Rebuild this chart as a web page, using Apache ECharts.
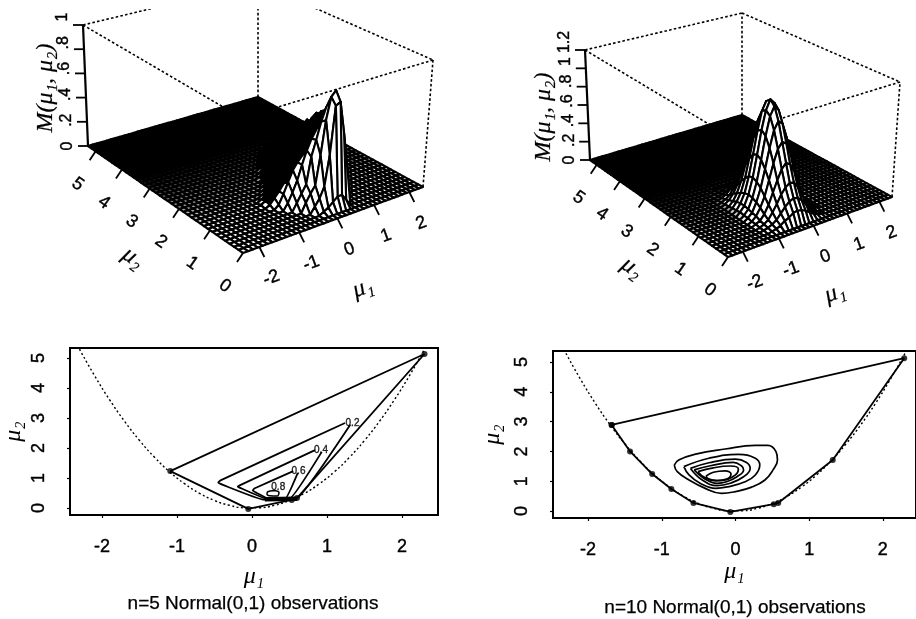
<!DOCTYPE html>
<html>
<head>
<meta charset="utf-8">
<style>html,body{margin:0;padding:0;background:#fff}#c{width:916px;height:619px}</style>
<script src="https://cdn.jsdelivr.net/npm/echarts@6/dist/echarts.min.js"></script>
</head>
<body>
<div id="c"></div>
<script>
// ---------- mesh of the two likelihood surfaces ----------
const meshMu1 = [-2.4,-2.28,-2.16,-2.04,-1.92,-1.8,-1.68,-1.56,-1.44,-1.32,-1.2,-1.08,-0.96,-0.84,-0.72,-0.6,-0.48,-0.36,-0.24,-0.12,0,0.12,0.24,0.36,0.48,0.6,0.72,0.84,0.96,1.08,1.2,1.32,1.44,1.56,1.68,1.8,1.92,2.04,2.16,2.28,2.4];
const meshMu2 = [0,0.1325,0.265,0.3975,0.53,0.6625,0.795,0.9275,1.06,1.1925,1.325,1.4575,1.59,1.7225,1.855,1.9875,2.12,2.2525,2.385,2.5175,2.65,2.7825,2.915,3.0475,3.18,3.3125,3.445,3.5775,3.71,3.8425,3.975,4.1075,4.24,4.3725,4.505,4.6375,4.77,4.9025,5.035,5.1675,5.3];

// n=5 surface: nonzero window starts at meshMu1[11], meshMu2[2]; the rest of the mesh is 0
const surfaceN5 = [
[0,0,0,0,0,0,0,0,.02,.04,.07,.10,.10,.05,0,0,0,0,0,0,0,0],
[0,0,0,0,0,0,0,.05,.10,.18,.41,.78,.80,.55,.28,0,0,0,0,0,0,0],
[0,0,0,0,0,0,.07,.13,.18,.40,.66,.83,.87,.60,.35,.05,0,0,0,0,0,0],
[0,0,0,0,0,.06,.12,.18,.38,.50,.63,.73,.74,.62,.40,.17,0,0,0,0,0,0],
[0,0,0,0,.05,.12,.20,.31,.41,.49,.55,.62,.67,.63,.44,.25,0,0,0,0,0,0],
[0,0,0,.03,.10,.18,.26,.31,.35,.41,.48,.55,.62,.65,.50,.30,.08,0,0,0,0,0],
[0,0,.02,.06,.10,.15,.19,.23,.28,.34,.42,.49,.56,.62,.52,.36,.15,0,0,0,0,0],
[0,.01,.03,.06,.09,.12,.15,.18,.24,.29,.36,.43,.49,.56,.57,.39,.21,0,0,0,0,0],
[0,0,.02,.04,.07,.09,.12,.15,.18,.24,.30,.35,.42,.49,.56,.42,.26,.05,0,0,0,0],
[0,0,0,.02,.04,.07,.09,.12,.15,.18,.24,.30,.36,.42,.50,.45,.30,.12,0,0,0,0],
[0,0,0,0,.02,.04,.07,.10,.12,.15,.18,.24,.30,.35,.42,.46,.34,.18,.02,0,0,0],
[0,0,0,0,0,.02,.04,.07,.10,.13,.16,.19,.25,.30,.36,.42,.39,.21,.05,0,0,0],
[0,0,0,0,0,0,.02,.05,.07,.10,.13,.16,.19,.24,.29,.36,.41,.26,.09,0,0,0],
[0,0,0,0,0,0,0,.02,.05,.08,.11,.14,.17,.20,.24,.29,.35,.33,.14,.02,0,0],
[0,0,0,0,0,0,0,.01,.03,.06,.09,.12,.15,.17,.20,.25,.30,.34,.19,.07,0,0],
[0,0,0,0,0,0,0,0,.01,.04,.07,.09,.12,.14,.17,.19,.24,.29,.24,.11,0,0],
[0,0,0,0,0,0,0,0,0,.02,.05,.07,.10,.12,.14,.16,.19,.24,.27,.15,.03,0],
[0,0,0,0,0,0,0,0,0,0,.03,.05,.08,.10,.12,.14,.16,.20,.23,.19,.07,0],
[0,0,0,0,0,0,0,0,0,0,0,.03,.05,.08,.10,.12,.14,.17,.20,.22,.10,0],
[0,0,0,0,0,0,0,0,0,0,0,0,.03,.05,.08,.10,.12,.14,.17,.20,.13,.02],
[0,0,0,0,0,0,0,0,0,0,0,0,0,.03,.05,.07,.10,.12,.14,.17,.15,.04]
];
// n=10 surface: nonzero window starts at meshMu1[11], meshMu2[2]
const surfaceN10 = [
[0,.01,.02,.04,.07,.09,.12,.13,.12,.10,.07,.04,.02,.01,0],
[.01,.02,.04,.07,.12,.17,.21,.23,.22,.18,.13,.07,.03,.01,0],
[.01,.03,.06,.12,.19,.27,.33,.36,.35,.29,.21,.11,.06,.02,.01],
[.02,.04,.09,.17,.28,.39,.49,.54,.51,.43,.32,.16,.08,.04,.01],
[.02,.06,.13,.23,.38,.54,.67,.73,.70,.59,.43,.23,.11,.05,.01],
[.03,.07,.16,.29,.47,.67,.84,.92,.88,.73,.54,.29,.14,.06,.02],
[.03,.08,.18,.33,.54,.77,.96,1.05,1.00,.84,.62,.33,.15,.07,.02],
[.04,.09,.19,.35,.57,.81,1.00,1.10,1.05,.88,.65,.34,.16,.07,.02],
[.03,.09,.18,.34,.55,.78,.97,1.06,1.01,.85,.62,.33,.16,.07,.02],
[.03,.08,.16,.29,.48,.68,.85,.93,.89,.74,.55,.29,.14,.06,.02],
[.02,.06,.13,.24,.39,.55,.69,.75,.72,.60,.44,.24,.11,.05,.01],
[.02,.05,.10,.18,.29,.41,.51,.56,.54,.45,.33,.17,.08,.04,.01],
[.01,.03,.06,.12,.20,.28,.35,.38,.36,.30,.22,.11,.06,.02,.01],
[.01,.02,.04,.08,.12,.17,.22,.24,.23,.19,.14,.07,.04,.02,0],
[0,.01,.02,.04,.07,.10,.13,.14,.13,.11,.08,.04,.02,.01,0],
[0,.01,.01,.02,.04,.05,.07,.07,.07,.06,.04,.02,.01,.01,0],
[0,0,.01,.01,.02,.03,.03,.03,.03,.03,.02,.01,.01,0,0]
];

// ---------- tick labels ----------
const mu1Ticks = [-2,-1,0,1,2];
const mu2Ticks = [0,1,2,3,4,5];
const zTicksN5 = [0,.2,.4,.6,.8,1];
const zLabelsN5 = ['0','.2','.4','.6','.8','1'];
const zTicksN10 = [0,.2,.4,.6,.8,1,1.2];
const zLabelsN10 = ['0','.2','.4','.6','.8','1','1.2'];

// ---------- bottom panels ----------
const parabolaMu1 = [-2.3,-2.1,-1.9,-1.7,-1.5,-1.3,-1.1,-.9,-.7,-.5,-.3,-.1,.1,.3,.5,.7,.9,1.1,1.3,1.5,1.7,1.9,2.1,2.3];
const parabolaMu2 = [5.29,4.41,3.61,2.89,2.25,1.69,1.21,.81,.49,.25,.09,.01,.01,.09,.25,.49,.81,1.21,1.69,2.25,2.89,3.61,4.41,5.29];

const hullN5Mu1 = [-1.09,-.05,.53,.6,2.3,-1.09];
const hullN5Mu2 = [1.23,-.03,.27,.33,5.13,1.23];
const obsN5Mu1 = [-1.09,-.05,.53,.6,2.3];
const obsN5Mu2 = [1.23,-.03,.27,.33,5.13];

const c02Mu1 = [1.24,-.42,-.45,-.38,.15,.58,1.31];
const c02Mu2 = [2.83,.92,.85,.76,.28,.29,2.77];
const c04Mu1 = [.84,-.15,-.19,-.13,.2,.5,.93];
const c04Mu2 = [1.93,.77,.71,.64,.3,.31,1.87];
const c06Mu1 = [.55,.03,.01,.05,.22,.44,.61];
const c06Mu2 = [1.23,.65,.58,.52,.31,.3,1.17];
const c08Mu1 = [.3,.21,.2,.24,.34,.36,.3];
const c08Mu2 = [.58,.54,.46,.41,.4,.52,.58];
const clusterMu1 = [.17,.6];
const clusterMu2 = [.29,.31];
const contourLabelMu1 = [1.34,.92,.62,.35];
const contourLabelMu2 = [2.83,1.93,1.23,.68];
const contourLabelText = ['0.2','0.4','0.6','0.8'];

const hullN10Mu1 = [-1.68,-1.43,-1.13,-.87,-.57,-.07,.52,.58,1.32,2.29,-1.68];
const hullN10Mu2 = [2.89,2.0,1.24,.74,.27,-.03,.23,.27,1.71,5.13,2.89];

const ring1Mu1 = [-.83,-.77,-.54,-.14,.27,.44,.55,.57,.51,.40,.22,0,-.19,-.41,-.63,-.79,-.83];
const ring1Mu2 = [1.54,1.71,1.91,2.08,2.2,2.2,1.99,1.71,1.38,1.04,.8,.65,.59,.76,1.04,1.32,1.54];
const ring2Mu1 = [-.70,-.36,.04,.27,.33,.27,.13,-.09,-.27,-.48,-.63,-.70];
const ring2Mu2 = [1.49,1.77,1.90,1.77,1.54,1.21,.98,.82,.76,.93,1.21,1.49];
const ring3Mu1 = [-.61,-.36,0,.15,.2,.11,-.07,-.25,-.45,-.61];
const ring3Mu2 = [1.43,1.62,1.74,1.63,1.43,1.15,.93,.85,1.04,1.43];
const ring4Mu1 = [-.56,-.34,-.03,.08,.11,.02,-.12,-.25,-.43,-.56];
const ring4Mu2 = [1.38,1.52,1.63,1.52,1.38,1.15,.98,.93,1.10,1.38];
const ring5Mu1 = [-.51,-.30,-.07,.04,0,-.14,-.27,-.42,-.51];
const ring5Mu2 = [1.32,1.45,1.51,1.40,1.21,1.04,1.02,1.13,1.32];
const ring6Mu1 = [-.40,-.30,-.14,-.06,-.12,-.25,-.36,-.40];
const ring6Mu2 = [1.17,1.30,1.35,1.24,1.07,1.02,1.07,1.17];

// silhouette of the n=5 ridge on the floor: cells behind it read as solid black
const foldN5Mu1 = [-1.2,-.87,.36,.84,1.5];
const foldN5Mu2 = [1.1,1.04,.66,1.0,1.0];

// ---------- helpers ----------
const zip = (a, b) => a.map((v, i) => [v, b[i]]);
const MU1 = '\u03bc\u2081', MU2 = '\u03bc\u2082';
const DEG = Math.PI / 180;

function homography(p0, p1, p2, p3) {
  const dx1 = p1[0]-p2[0], dx2 = p3[0]-p2[0], sx = p0[0]-p1[0]+p2[0]-p3[0];
  const dy1 = p1[1]-p2[1], dy2 = p3[1]-p2[1], sy = p0[1]-p1[1]+p2[1]-p3[1];
  const det = dx1*dy2-dx2*dy1;
  const g = (sx*dy2-dx2*sy)/det, h = (dx1*sy-sx*dy1)/det;
  const a = p1[0]-p0[0]+g*p1[0], b = p3[0]-p0[0]+h*p3[0], c = p0[0];
  const d = p1[1]-p0[1]+g*p1[1], e = p3[1]-p0[1]+h*p3[1], f = p0[1];
  return (u, v) => { const w = g*u+h*v+1; return [(a*u+b*v+c)/w, (d*u+e*v+f)/w]; };
}
function foldAt(xs, ys, x) {
  for (let k = 0; k < xs.length-1; k++)
    if (x <= xs[k+1]) return ys[k]+(ys[k+1]-ys[k])*(x-xs[k])/(xs[k+1]-xs[k]);
  return ys[ys.length-1];
}
function grey(t) { const c = Math.round(255*(1-Math.max(0, Math.min(1, t)))); return 'rgb('+c+','+c+','+c+')'; }

function makePanel(cfg) {
  const floor = homography(cfg.A, cfg.B, cfg.C, cfg.D);
  const ceil = homography(cfg.At, cfg.Bt, cfg.Ct, cfg.Dt);
  const r1 = meshMu1[meshMu1.length-1]-meshMu1[0], r2 = meshMu2[meshMu2.length-1];
  const project = (m1, m2, z) => {
    const u = (m1-meshMu1[0])/r1, v = m2/r2;
    const a = floor(u, v), b = ceil(u, v), t = z/cfg.zMax;
    return [a[0]+(b[0]-a[0])*t, a[1]+(b[1]-a[1])*t];
  };
  const zAt = (i, j) => {
    const row = cfg.table[j-2];
    if (!row) return 0;
    const v = row[i-11];
    return v === undefined ? 0 : v;
  };
  const cells = [];
  for (let j = meshMu2.length-2; j >= 0; j--)
    for (let i = meshMu1.length-2; i >= 0; i--) cells.push([i, j]);

  const surface = {
    type: 'custom', xAxisIndex: cfg.g, yAxisIndex: cfg.g, clip: true, z: 3, silent: true,
    progressive: 0, animation: false, data: cells,
    renderItem(p, api) {
      const i = api.value(0), j = api.value(1);
      const corners = [[i,j],[i+1,j],[i+1,j+1],[i,j+1]];
      const zs = corners.map(q => zAt(q[0], q[1]));
      const pts = corners.map((q, k) => api.coord(project(meshMu1[q[0]], meshMu2[q[1]], zs[k])));
      const raised = Math.max(...zs) > .04;
      let fill = grey((j-cfg.fadeFrom)/(cfg.fadeTo-cfg.fadeFrom));
      let lw = cfg.floorLw;
      if (raised) {
        const behind = cfg.foldX && meshMu2[j] > foldAt(cfg.foldX, cfg.foldY, meshMu1[i]);
        fill = behind ? '#000' : '#fff';
        lw = cfg.bumpLw;
      }
      return { type: 'polygon', shape: { points: pts },
        style: { fill, stroke: '#000', lineWidth: lw, lineJoin: 'round' } };
    }
  };

  const mn1 = meshMu1[0], mx1 = meshMu1[meshMu1.length-1], mx2 = r2;
  const boxSegs = [
    [[mn1,mx2,cfg.zMax],[mx1,mx2,cfg.zMax]],
    [[mx1,mx2,cfg.zMax],[mx1,0,cfg.zMax]],
    [[mn1,mx2,cfg.zMax],[mn1,0,cfg.zMax]],
    [[mx1,0,cfg.zMax],[mn1,0,cfg.zMax]],
    [[mx1,mx2,0],[mx1,mx2,cfg.zMax]],
    [[mx1,0,0],[mx1,0,cfg.zMax]]
  ];
  const box = {
    type: 'custom', xAxisIndex: cfg.g, yAxisIndex: cfg.g, clip: true, z: 2, silent: true,
    animation: false, data: boxSegs.map((s, i) => [i]),
    renderItem(p, api) {
      const s = boxSegs[api.value(0)];
      const a = api.coord(project(...s[0])), b = api.coord(project(...s[1]));
      return { type: 'line', shape: { x1:a[0], y1:a[1], x2:b[0], y2:b[1] },
        style: { stroke: '#000', lineWidth: 1.6, lineDash: [2.6, 2.2] } };
    }
  };

  const marks = [];
  const txt = (text, pos, rot, font, bw) => marks.push({ k:'t', text, pos, rot, font, bw });
  const seg = (a, b, w) => marks.push({ k:'l', a, b, w });
  const tickFont = '18px "Liberation Sans"';
  const zFont = '16px "Liberation Sans"';
  mu2Ticks.forEach(t => {
    const q = project(mn1, t, 0);
    seg(q, [q[0]-6, q[1]+9], 1.8);
    txt(String(t), [q[0]-18, q[1]+33], -35, tickFont, .4);
  });
  mu1Ticks.forEach(t => {
    const q = project(t, 0, 0);
    seg(q, [q[0]+5, q[1]+10], 1.8);
    txt(String(t), [q[0]+12, q[1]+31], 20, tickFont, .4);
  });
  seg(project(mn1,mx2,0), project(mn1,mx2,cfg.zMax), 2.2);
  cfg.zTicks.forEach((t, i) => {
    const q = project(mn1, mx2, t);
    seg(q, [q[0]-10, q[1]], 1.8);
    txt(cfg.zLabels[i], [q[0]-20, q[1]-t/cfg.zMax*8], 90, zFont, .4);
  });
  txt('M(' + MU1 + ', ' + MU2 + ')', cfg.zName, 90, 'italic 24px "Liberation Serif"', .2);
  txt(MU2, cfg.mu2Name, -35, 'italic 24px "Liberation Serif"', .2);
  txt(MU1, cfg.mu1Name, 20, 'italic 24px "Liberation Serif"', .2);

  const deco = {
    type: 'custom', xAxisIndex: cfg.g, yAxisIndex: cfg.g, z: 4, silent: true, animation: false,
    data: marks.map((m, i) => [i]),
    renderItem(p, api) {
      const m = marks[api.value(0)];
      if (m.k === 'l') {
        const a = api.coord(m.a), b = api.coord(m.b);
        return { type:'line', shape:{ x1:a[0], y1:a[1], x2:b[0], y2:b[1] }, style:{ stroke:'#000', lineWidth:m.w } };
      }
      const q = api.coord(m.pos);
      return { type:'text', x:q[0], y:q[1], rotation:m.rot*DEG,
        style:{ text:m.text, font:m.font, fill:'#000', stroke:'#000', lineWidth:m.bw, align:'center', verticalAlign:'middle' } };
    }
  };
  return [box, surface, deco];
}

const panelN5 = makePanel({
  g: 0, table: surfaceN5, zMax: 1, zTicks: zTicksN5, zLabels: zLabelsN5,
  floorLw: 2.2, bumpLw: 2.1, fadeFrom: 8, fadeTo: 26, foldX: foldN5Mu1, foldY: foldN5Mu2,
  A:[243,253], B:[423,187], C:[258,97], D:[88,146],
  At:[242,118], Bt:[433,60], Ct:[258,-17], Dt:[83,25],
  zName:[46,88], mu2Name:[133,258], mu1Name:[363,288]
});
const panelN10 = makePanel({
  g: 1, table: surfaceN10, zMax: 1.2, zTicks: zTicksN10, zLabels: zLabelsN10,
  floorLw: 2.2, bumpLw: 2.1, fadeFrom: 6, fadeTo: 22,
  A:[728,257], B:[892,197], C:[742,115], D:[590,160],
  At:[727,135], Bt:[900,82], Ct:[742,13], Dt:[585,50],
  zName:[544,117], mu2Name:[632,268], mu1Name:[835,293]
});

const hiddenAxes = (g, x0, x1) => ({
  x: { type:'value', gridIndex:g, min:x0, max:x1, show:false },
  y: { type:'value', gridIndex:g, min:9, max:309, inverse:true, show:false }
});
const h0 = hiddenAxes(0, 0, 458), h1 = hiddenAxes(1, 458, 916);

const axisText = { color:'#000', fontFamily:'Liberation Sans', fontSize:18, textBorderColor:'#000', textBorderWidth:.4 };
const muName = { fontFamily:'Liberation Serif', fontStyle:'italic', fontSize:24, color:'#000' };
const xAxisFor = (g, min, max, gap) => ({
  type:'value', gridIndex:g, min, max, name:MU1, nameLocation:'middle', nameGap:gap, nameTextStyle:muName,
  splitLine:{show:false}, axisLine:{show:false, onZero:false},
  axisTick:{show:true, length:3, inside:false, customValues:mu1Ticks, lineStyle:{color:'#000',width:1.2}},
  axisLabel:{...axisText, margin:23, customValues:mu1Ticks, showMinLabel:true, showMaxLabel:true}
});
const yAxisFor = (g, min, max, gap) => ({
  type:'value', gridIndex:g, min, max, name:MU2, nameLocation:'middle', nameGap:gap, nameRotate:90, nameTextStyle:muName,
  splitLine:{show:false}, axisLine:{show:false, onZero:false},
  axisTick:{show:true, length:3, customValues:mu2Ticks, lineStyle:{color:'#000',width:1.2}},
  axisLabel:{...axisText, margin:22, rotate:90, customValues:mu2Ticks, align:'center', verticalAlign:'bottom'}
});

const line2 = (g, xs, ys, w, extra) => Object.assign({
  type:'line', xAxisIndex:g, yAxisIndex:g, data:zip(xs, ys), showSymbol:false, symbol:'none', silent:true,
  lineStyle:{color:'#000', width:w}, animation:false
}, extra || {});
const dotted = g => line2(g, parabolaMu1, parabolaMu2, 1.4, { smooth:true, lineStyle:{color:'#000', width:1.4, type:[2,2.5]} });
const dots = (g, xs, ys) => ({ type:'scatter', xAxisIndex:g, yAxisIndex:g, data:zip(xs, ys), symbolSize:6,
  itemStyle:{color:'#000'}, silent:true, animation:false });

const bottomLeft = [
  dotted(2),
  line2(2, hullN5Mu1, hullN5Mu2, 1.8),
  dots(2, obsN5Mu1, obsN5Mu2),
  line2(2, c02Mu1, c02Mu2, 1.8, {smooth:.1}),
  line2(2, c04Mu1, c04Mu2, 1.8, {smooth:.1}),
  line2(2, c06Mu1, c06Mu2, 1.8, {smooth:.1}),
  line2(2, c08Mu1, c08Mu2, 1.5, {smooth:.3}),
  line2(2, clusterMu1, clusterMu2, 4.5),
  { type:'scatter', xAxisIndex:2, yAxisIndex:2, symbolSize:1, silent:true, animation:false,
    data:contourLabelMu1.map((m, i) => ({ value:[m, contourLabelMu2[i]], label:{ formatter:contourLabelText[i] } })),
    itemStyle:{color:'transparent'},
    label:{ show:true, position:'inside', color:'#000', fontFamily:'Liberation Sans', fontSize:10, textBorderColor:'#000', textBorderWidth:.4 } }
];
const ringList = [[ring1Mu1,ring1Mu2],[ring2Mu1,ring2Mu2],[ring3Mu1,ring3Mu2],[ring4Mu1,ring4Mu2],[ring5Mu1,ring5Mu2],[ring6Mu1,ring6Mu2]];
const bottomRight = [
  dotted(3),
  line2(3, hullN10Mu1, hullN10Mu2, 1.8),
  dots(3, hullN10Mu1, hullN10Mu2)
].concat(ringList.map(r => line2(3, r[0], r[1], 1.7, {smooth:.45})));

const frame = { show:true, borderColor:'#000', borderWidth:2, backgroundColor:'transparent' };
const capStyle = { color:'#000', fontFamily:'Liberation Sans', fontSize:19, fontWeight:'normal', textBorderColor:'#000', textBorderWidth:.25 };

const chart = echarts.init(document.getElementById('c'), null, { renderer:'canvas' });
chart.setOption({
  animation:false,
  backgroundColor:'#fff',
  title:[
    { text:'n=5 Normal(0,1) observations', left:253, top:594, textAlign:'center', textStyle:capStyle, padding:0 },
    { text:'n=10 Normal(0,1) observations', left:735, top:598, textAlign:'center', textStyle:capStyle, padding:0 }
  ],
  grid:[
    { left:0, top:9, width:458, height:300 },
    { left:458, top:9, width:458, height:300 },
    Object.assign({ left:70, top:348, width:368, height:167 }, frame),
    Object.assign({ left:553, top:351, width:366, height:167 }, frame)
  ],
  xAxis:[ h0.x, h1.x, xAxisFor(2, -2.427, 2.48, 50), xAxisFor(3, -2.476, 2.45, 42) ],
  yAxis:[ h0.y, h1.y, yAxisFor(2, -.233, 5.33, 44), yAxisFor(3, -.235, 5.37, 48) ],
  series:[].concat(panelN5, panelN10, bottomLeft, bottomRight)
});
</script>
</body>
</html>
